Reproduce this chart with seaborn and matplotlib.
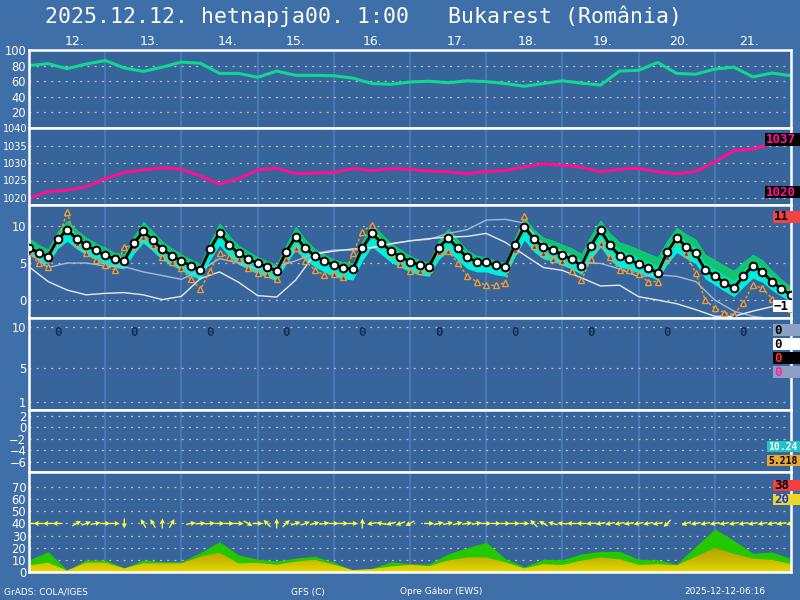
import numpy as np
import matplotlib
matplotlib.use("Agg")
import matplotlib.pyplot as plt
from matplotlib.colors import LinearSegmentedColormap
from matplotlib.patches import Rectangle
import seaborn as sns

# ---------------- data ----------------
title = "2025.12.12. hetnapja00. 1:00   Bukarest (România)"
day_labels = ["12.", "13.", "14.", "15.", "16.", "17.", "18.", "19.", "20.", "21."]
day_label_hours = [14.2, 38.1, 62.4, 84.1, 108.3, 134.8, 156.9, 180.8, 204.7, 226.8]
day_lines = [24, 48, 72, 96, 120, 144, 168, 192, 216]

hours6 = list(range(0, 241, 6))
hours3 = list(range(0, 241, 3))

rh = [80, 82.5, 76, 82, 86.5, 77, 72.6, 78, 84.5, 83,
      70, 70, 65, 73, 67.5, 67.5, 67, 64, 57, 56,
      59, 60, 58, 60.5, 59.5, 57, 53.5, 57, 60.5, 57.5,
      55, 73, 74, 84, 70, 69, 75.5, 78, 65.5, 70.5,
      67]

pressure = [1020, 1021.8, 1022.2, 1023.2, 1025.5, 1027.3, 1028.0, 1028.6, 1028.2, 1026.3,
            1024.0, 1025.5, 1028.0, 1028.5, 1027.0, 1027.1, 1027.3, 1028.4, 1027.8, 1028.4,
            1028.2, 1027.7, 1027.5, 1026.9, 1027.6, 1027.8, 1028.9, 1029.7, 1029.4, 1028.8,
            1027.5, 1028.2, 1028.5, 1027.5, 1026.9, 1027.6, 1030.3, 1033.5, 1034.0, 1035.5,
            1036.5]

t2m = [7.07, 6.4, 5.85, 8.2, 9.45, 8.3, 7.4, 6.7, 6.1, 5.5,
       5.3, 7.65, 9.3, 8.1, 6.85, 6.0, 5.3, 4.6, 4.05, 6.85,
       9.1, 7.5, 6.3, 5.6, 4.95, 4.5, 3.95, 6.5, 8.55, 7.05,
       5.95, 5.3, 4.7, 4.35, 4.2, 7.0, 9.0, 7.75, 6.6, 5.85,
       5.2, 4.7, 4.5, 7.05, 8.4, 7.0, 5.75, 5.2, 5.1, 4.7,
       4.5, 7.4, 9.9, 8.25, 7.15, 6.75, 6.1, 5.5, 4.65, 7.35,
       9.45, 7.4, 6.0, 5.5, 4.85, 4.3, 3.7, 6.45, 8.4, 7.2,
       6.3, 4.05, 3.25, 2.35, 1.6, 3.25, 4.65, 3.8, 2.5, 1.5,
       0.7]

# ensemble spread above / below the main run
ens_up = [1.3, 1.1, 1.0, 1.1, 1.3, 1.2, 1.1, 1.0, 1.0, 0.9,
          0.9, 1.0, 1.3, 1.2, 1.1, 1.0, 0.9, 0.9, 0.8, 1.0,
          1.3, 1.2, 1.1, 1.0, 0.9, 0.8, 0.8, 1.0, 1.35, 1.2,
          1.0, 0.9, 0.8, 0.8, 0.8, 1.0, 1.3, 1.2, 1.1, 1.0,
          0.8, 0.7, 0.6, 1.0, 1.3, 1.2, 1.0, 0.8, 0.7, 0.6,
          0.6, 1.0, 1.3, 1.3, 1.3, 1.3, 1.4, 1.5, 1.6, 1.4,
          1.35, 1.6, 1.8, 1.9, 2.0, 2.0, 2.1, 1.6, 1.4, 1.7,
          1.9, 2.1, 2.2, 2.3, 2.4, 1.9, 1.5, 1.6, 1.5, 1.3,
          1.1]
ens_dn = [0.8, 1.0, 1.0, 1.3, 1.5, 1.4, 1.3, 1.2, 1.2, 1.1,
          1.1, 1.4, 1.6, 1.5, 1.4, 1.3, 1.3, 1.3, 1.3, 1.5,
          1.7, 1.6, 1.5, 1.4, 1.4, 1.4, 1.4, 1.6, 1.8, 1.6,
          1.5, 1.5, 1.5, 1.5, 1.5, 1.7, 1.8, 1.6, 1.5, 1.4,
          1.4, 1.3, 1.3, 1.6, 1.8, 1.6, 1.5, 1.4, 1.3, 1.3,
          1.3, 1.6, 1.8, 1.7, 1.6, 1.5, 1.4, 1.3, 1.2, 1.8,
          2.3, 2.0, 1.6, 1.3, 1.2, 1.1, 1.0, 1.6, 2.0, 1.6,
          1.4, 1.2, 1.2, 1.15, 1.15, 1.5, 1.7, 1.4, 1.2, 1.0,
          0.9]

t_other = [6.5, 4.95, 4.5, 8.0, 11.9, 7.65, 6.3, 5.4, 4.7, 4.05,
           7.2, 7.3, 8.55, 7.45, 5.85, 5.2, 4.3, 2.8, 1.45, 3.9,
           6.4, 5.75, 5.5, 4.35, 3.6, 3.5, 2.8, 5.5, 7.05, 5.3,
           4.05, 3.4, 3.5, 3.15, 6.3, 9.2, 10.2, 7.65, 6.3, 4.85,
           3.95, 3.95, 4.2, 6.5, 6.65, 5.05, 3.25, 2.5, 2.0, 2.0,
           2.35, 6.8, 11.4, 7.35, 6.4, 5.5, 5.3, 3.95, 2.7, 5.5,
           7.65, 5.75, 4.05, 4.05, 3.45, 2.5, 2.5, 5.85, 8.1, 6.3,
           3.6, 0.0, -1.1, -1.7, -2.0, -0.35, 2.0, 1.6, 0.2, -0.8,
           -1.2]

t_gray = [6.5, 4.4, 5.0, 5.0, 4.6, 4.5, 3.8, 3.3, 2.8, 4.0,
          5.6, 5.0, 4.2, 4.5, 5.3, 6.3, 6.75, 6.75, 7.0, 7.6,
          8.0, 8.2, 9.0, 9.5, 10.8, 10.9, 10.4, 7.5, 6.6, 5.0,
          4.95, 4.2, 3.15, 3.4, 3.2, 2.5, 0.0, -1.5, -2.2, -2.5,
          -2.5]
t_white = [4.5, 2.5, 1.35, 0.7, 0.9, 1.0, 0.7, 0.05, 0.5, 2.9,
           3.8, 2.4, 0.6, 0.4, 2.7, 6.2, 6.6, 6.9, 7.1, 7.6,
           8.0, 8.3, 8.5, 8.6, 9.0, 7.8, 6.1, 4.4, 4.0, 3.0,
           1.9, 2.0, 0.45, 0.0, -0.5, -1.3, -2.2, -2.2, -1.5, -0.9,
           0.0]

precip_hours = [9, 33, 57, 81, 105, 129, 153, 177, 201, 225]
precip_daily = [0, 0, 0, 0, 0, 0, 0, 0, 0, 0]

gust = [10, 16.8, 1.6, 9.9, 9.9, 3.5, 9.9, 8.5, 8.5, 16,
        25, 14, 10.5, 9, 11.5, 13, 8, 1.6, 3, 8.5,
        7, 6.5, 15, 20, 24.5, 11, 4.4, 10.5, 10, 15,
        17, 17, 10.5, 10, 6.6, 21, 35.5, 26, 15.5, 16.5,
        11]
wind = [5.5, 7.7, 1.2, 7.7, 7.7, 3, 7.1, 7.1, 7.1, 12.6,
        16, 7.1, 7.5, 6, 8.5, 10, 6, 1.6, 2.5, 4.5,
        6, 4.8, 9.5, 12, 12, 8, 3, 6.5, 5.8, 9.3,
        12, 10.5, 5.8, 6.5, 5.5, 12.6, 20, 15, 11, 10,
        6.6]
nan = np.nan
wind_dir = [180, 180, 180, 180, nan, 30, 20, 10, 0, 0,
            270, nan, 120, 120, 90, 60, nan, 10, 5, 5,
            0, 0, 0, 330, 0, 135, 90, 45, 20, 20,
            15, 10, 0, 0, 0, 90, 190, 170, 195, 200,
            210, nan, 0, 15, 15, 15, 10, 10, 0, 0,
            0, 0, 0, 135, 150, 165, 175, 180, 180, 185,
            190, 190, 190, 190, 190, 190, 190, 225, nan, 200,
            190, 190, 190, 190, 190, 190, 190, 190, 190, 190,
            190]

# right-hand value boxes: text, background, text colour
box_texts = ["1037", "1020", "11", "−1", "0", "0", "0", "0", "10.24", "5.218", "38", "20"]
box_bg = ["black", "black", "#f04444", "white", "#8ca0c4", "white", "black", "#8ca0c4",
          "#22c4c8", "#e8a830", "#f04040", "#e8d828"]
box_fg = ["#ff1493", "#ff1493", "#200000", "black", "black", "black", "#ff3030", "#ff20a0",
          "white", "black", "black", "#2030f0"]
# box geometry in pixels (left, top, width, height)
box_px = [(765, 133, 35, 13), (765, 186, 35, 12), (773, 211, 27, 12), (773, 300, 19, 12),
          (773, 324, 27, 12), (773, 338, 27, 12), (773, 352, 27, 12), (773, 366, 27, 12),
          (767, 441, 33, 11), (767, 455, 33, 11), (773, 480, 27, 11), (773, 494, 27, 11)]

# ---------------- style ----------------
BG = "#3f6fa9"
PANEL = "#37649a"
GRID = "#c4c4bc"
DAYLINE = "#4b7fc2"

sns.set_style("dark", {"axes.facecolor": PANEL, "figure.facecolor": BG})
plt.rcParams["font.family"] = ["DejaVu Sans"]

W, H = 800, 600
fig = plt.figure(figsize=(8, 6), dpi=100)
fig.patch.set_facecolor(BG)


def panel(top, bottom, tick_size=8.3):
    ax = fig.add_axes([29 / W, 1 - bottom / H, 762 / W, (bottom - top) / H])
    ax.set_facecolor(PANEL)
    ax.set_xlim(0, 240)
    ax.set_xticks([])
    for s in ax.spines.values():
        s.set_color("white")
        s.set_linewidth(1.8)
    ax.tick_params(axis="y", colors="white", labelsize=tick_size, length=0, pad=2)
    ax.grid(axis="y", color=GRID, linestyle=(0, (1.5, 4.3)), linewidth=0.9)
    ax.grid(axis="x", visible=False)
    for d in day_lines:
        ax.axvline(d, color=DAYLINE, lw=1.1, zorder=0.5)
    return ax


ax1 = panel(50, 128)
ax2 = panel(128, 205, tick_size=7.0)
ax3 = panel(205, 318)
ax4 = panel(318, 410)
ax5 = panel(410, 472)
ax6 = panel(472, 572)

# relative humidity
sns.lineplot(x=hours6, y=rh, ax=ax1, color="#10d890", lw=2.2)
ax1.set_ylim(0, 100)
ax1.set_yticks([20, 40, 60, 80, 100])
ax1.set_ylabel("")
for h, lab in zip(day_label_hours, day_labels):
    ax1.text(h, 1.115, lab, transform=ax1.get_xaxis_transform(), color="white",
             fontsize=9, ha="center", va="center")

# pressure
sns.lineplot(x=hours6, y=pressure, ax=ax2, color="#ff1090", lw=2.2)
ax2.set_ylim(1018, 1040)
ax2.set_yticks([1020, 1025, 1030, 1035, 1040])
ax2.tick_params(axis="y", pad=1)

# temperature
t = np.array(t2m)
up = np.array(ens_up)
dn = np.array(ens_dn)
ax3.fill_between(hours3, t - dn, t + up, color="#00eede", lw=0, zorder=1)
ax3.fill_between(hours3, t - 0.35 * dn, t + up, color="#08dca4", lw=0, zorder=1.1)
ax3.fill_between(hours3, t + 0.45 * up, t + up, color="#10c470", lw=0, zorder=1.2)
sns.lineplot(x=hours6, y=t_gray, ax=ax3, color="#a8b8d8", lw=1.0, zorder=3)
sns.lineplot(x=hours6, y=t_white, ax=ax3, color="#e4eaf2", lw=1.0, zorder=3)
ax3.plot(hours3, t_other, color="#f0a020", lw=1.0, linestyle=(0, (2, 1.5)),
         marker="^", markersize=5, markerfacecolor="#2a4ad8", markeredgecolor="#f0a020",
         markeredgewidth=1.0, zorder=4)
sns.lineplot(x=hours3, y=t2m, ax=ax3, color="black", lw=2.0, marker="o", markersize=5.5,
             markerfacecolor="white", markeredgecolor="black", markeredgewidth=1.4, zorder=5)
ax3.set_ylim(-2.43, 12.84)
ax3.set_yticks([0, 5, 10])

# precipitation
ax4.set_ylim(0, 92)
ax4.set_yticks([8, 42, 83])
ax4.set_yticklabels(["1", "5", "10"])
for h, p in zip(precip_hours, precip_daily):
    ax4.text(h, 77, str(p), color="#1c2c50", fontsize=9, fontweight="bold",
             family="DejaVu Sans Mono", ha="center", va="center")

# empty panel
ax5.set_ylim(-7.74, 3.04)
ax5.set_yticks([2, 0, -2, -4, -6])

# wind
ax6.fill_between(hours6, 0, gust, color="#22c800", lw=0, zorder=1)
poly = ax6.fill_between(hours6, 0, wind, color="none", lw=0, zorder=2)
cmap = LinearSegmentedColormap.from_list("ws", ["#e4da00", "#c6b400", "#ae9e00"])
grad = np.linspace(0, 1, 256).reshape(-1, 1)
im = ax6.imshow(grad, extent=(0, 240, 0, 22), origin="lower", cmap=cmap,
                aspect="auto", zorder=2)
im.set_clip_path(poly.get_paths()[0], transform=ax6.transData)
d = np.array(wind_dir, dtype=float)
ok = ~np.isnan(d)
hx = np.array(hours3, dtype=float)[ok]
ang = np.deg2rad(d[ok])
ax6.quiver(hx, np.full(hx.size, 40.0), np.cos(ang), np.sin(ang), color="#ffff40",
           units="dots", scale_units="dots", scale=0.1, width=1.3, headwidth=4,
           headlength=4, headaxislength=3.5, pivot="middle", zorder=4)
ax6.set_xlim(0, 240)
ax6.set_ylim(0, 82.4)
ax6.set_yticks([0, 10, 20, 30, 40, 50, 60, 70])

# value boxes on the right
for (x0, y0, bw, bh), txt, bg, fg in zip(box_px, box_texts, box_bg, box_fg):
    fig.patches.append(Rectangle((x0 / W, 1 - (y0 + bh) / H), bw / W, bh / H,
                                 transform=fig.transFigure, facecolor=bg,
                                 edgecolor="none", zorder=10))
    fs = 9 if len(txt) <= 4 else 7.0
    fig.text((x0 + 1) / W, 1 - (y0 + bh / 2) / H, txt, color=fg, fontsize=fs,
             family="DejaVu Sans Mono", fontweight="bold", ha="left", va="center",
             zorder=11)

# texts
fig.text(45 / W, 1 - 16 / H, title, color="white", fontsize=15.5,
         family="DejaVu Sans Mono", ha="left", va="center")
fig.text(4 / W, 1 - 592 / H, "GrADS: COLA/IGES", color="white", fontsize=6.5,
         ha="left", va="center")
fig.text(291 / W, 1 - 592 / H, "GFS (C)", color="white", fontsize=6.5, ha="left", va="center")
fig.text(400 / W, 1 - 592 / H, "Opre Gábor (EWS)", color="white", fontsize=6.5,
         ha="left", va="center")
fig.text(684 / W, 1 - 592 / H, "2025-12-12-06:16", color="white", fontsize=6.5,
         ha="left", va="center")

fig.savefig("out.png", dpi=100, facecolor=BG)
